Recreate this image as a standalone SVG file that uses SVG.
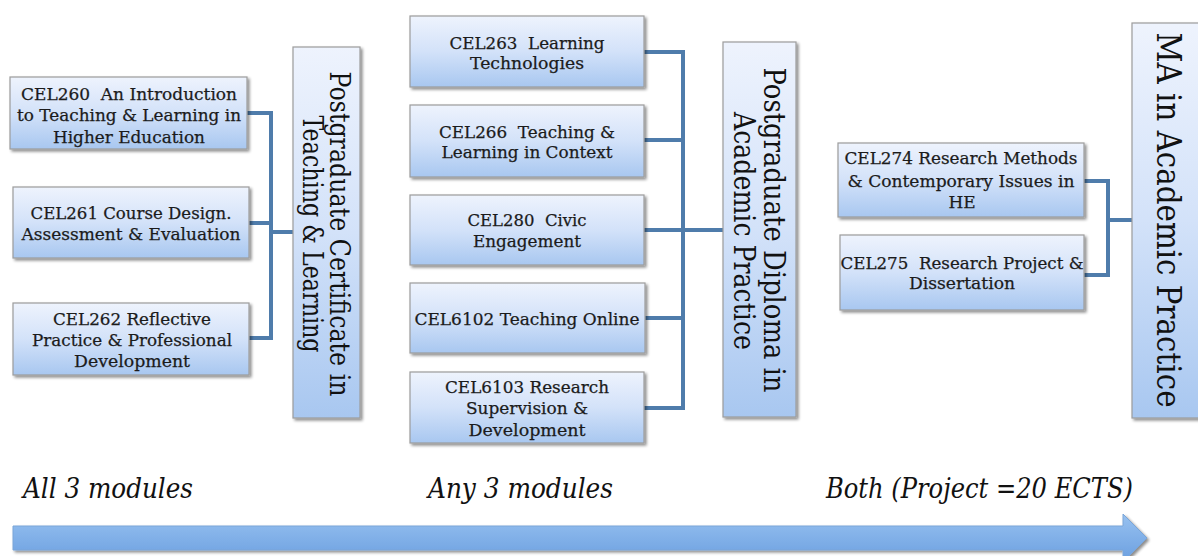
<svg xmlns="http://www.w3.org/2000/svg" width="1198" height="556" viewBox="0 0 1198 556">
<defs>
<linearGradient id="gBox" x1="0" y1="0" x2="0" y2="1">
<stop offset="0" stop-color="#eef3fd"/>
<stop offset="0.5" stop-color="#d3e2f9"/>
<stop offset="1" stop-color="#a8c7f0"/>
</linearGradient>
<linearGradient id="gArrow" x1="0" y1="0" x2="0" y2="1">
<stop offset="0" stop-color="#97c1f0"/>
<stop offset="1" stop-color="#6b9fe0"/>
</linearGradient>
<filter id="sh" x="-10%" y="-10%" width="130%" height="130%">
<feGaussianBlur in="SourceAlpha" stdDeviation="1.5"/>
<feOffset dx="1.5" dy="2" result="o"/>
<feComponentTransfer><feFuncA type="linear" slope="0.45"/></feComponentTransfer>
<feMerge><feMergeNode/><feMergeNode in="SourceGraphic"/></feMerge>
</filter>
</defs>
<style>
.box{fill:url(#gBox);stroke:#9c9c9c;stroke-width:1.2;filter:url(#sh)}
.t{font-family:"DejaVu Serif","Liberation Serif",serif;font-size:17px;fill:#1b1b1b;text-anchor:middle;stroke:#1b1b1b;stroke-width:0.25}
.v{font-family:"DejaVu Serif","Liberation Serif",serif;fill:#111;text-anchor:middle}
.lab{font-family:"DejaVu Serif","Liberation Serif",serif;font-style:italic;font-size:28px;fill:#111}
.con{fill:none;stroke:#4f7cab;stroke-width:4}
</style>

<g id="connectors">
<path class="con" d="M247,113 H271 V338 H249"/>
<path class="con" d="M249,223 H271"/>
<path class="con" d="M271,232 H293"/>
<path class="con" d="M644,52 H683 V408 H644"/>
<path class="con" d="M644,140 H683"/>
<path class="con" d="M644,230 H723"/>
<path class="con" d="M645,318 H683"/>
<path class="con" d="M1084,181 H1108 V275 H1084"/>
<path class="con" d="M1108,220 H1132"/>
</g>

<g id="cel260">
<rect class="box" x="10" y="77" width="237" height="72"/>
<text class="t" x="129" y="100" textLength="216" lengthAdjust="spacingAndGlyphs" xml:space="preserve">CEL260  An Introduction</text>
<text class="t" x="129" y="121" textLength="224" lengthAdjust="spacingAndGlyphs">to Teaching &amp; Learning in</text>
<text class="t" x="129" y="143" textLength="152" lengthAdjust="spacingAndGlyphs">Higher Education</text>
</g>
<g id="cel261">
<rect class="box" x="13" y="187" width="236" height="71"/>
<text class="t" x="131" y="219" textLength="201" lengthAdjust="spacingAndGlyphs">CEL261 Course Design.</text>
<text class="t" x="131" y="240" textLength="219" lengthAdjust="spacingAndGlyphs">Assessment &amp; Evaluation</text>
</g>
<g id="cel262">
<rect class="box" x="13" y="303" width="236" height="72"/>
<text class="t" x="132" y="325" textLength="158" lengthAdjust="spacingAndGlyphs">CEL262 Reflective</text>
<text class="t" x="132" y="346" textLength="200" lengthAdjust="spacingAndGlyphs">Practice &amp; Professional</text>
<text class="t" x="132" y="367" textLength="116" lengthAdjust="spacingAndGlyphs">Development</text>
</g>

<g id="pgcert">
<rect class="box" x="293" y="47" width="67" height="371"/>
<text class="v" font-size="27" transform="translate(330,234) rotate(90)" textLength="325" lengthAdjust="spacingAndGlyphs">Postgraduate Certificate in</text>
<text class="v" font-size="27" transform="translate(303,234) rotate(90)" textLength="237" lengthAdjust="spacingAndGlyphs">Teaching &amp; Learning</text>
</g>

<g id="cel263">
<rect class="box" x="410" y="16" width="234" height="71"/>
<text class="t" x="527" y="49" textLength="155" lengthAdjust="spacingAndGlyphs" xml:space="preserve">CEL263  Learning</text>
<text class="t" x="527" y="69" textLength="114" lengthAdjust="spacingAndGlyphs">Technologies</text>
</g>
<g id="cel266">
<rect class="box" x="410" y="105" width="234" height="72"/>
<text class="t" x="527" y="138" textLength="176" lengthAdjust="spacingAndGlyphs" xml:space="preserve">CEL266  Teaching &amp;</text>
<text class="t" x="527" y="158" textLength="171" lengthAdjust="spacingAndGlyphs">Learning in Context</text>
</g>
<g id="cel280">
<rect class="box" x="410" y="195" width="234" height="70"/>
<text class="t" x="527" y="226" textLength="119" lengthAdjust="spacingAndGlyphs" xml:space="preserve">CEL280  Civic</text>
<text class="t" x="527" y="247" textLength="108" lengthAdjust="spacingAndGlyphs">Engagement</text>
</g>
<g id="cel6102">
<rect class="box" x="410" y="283" width="235" height="70"/>
<text class="t" x="527" y="325" textLength="225" lengthAdjust="spacingAndGlyphs">CEL6102 Teaching Online</text>
</g>
<g id="cel6103">
<rect class="box" x="410" y="372" width="234" height="71"/>
<text class="t" x="527" y="393" textLength="164" lengthAdjust="spacingAndGlyphs">CEL6103 Research</text>
<text class="t" x="527" y="414" textLength="122" lengthAdjust="spacingAndGlyphs">Supervision &amp;</text>
<text class="t" x="527" y="436" textLength="117" lengthAdjust="spacingAndGlyphs">Development</text>
</g>

<g id="pgdip">
<rect class="box" x="723" y="42" width="73" height="375"/>
<text class="v" font-size="29" transform="translate(764,230) rotate(90)" textLength="325" lengthAdjust="spacingAndGlyphs">Postgraduate Diploma in</text>
<text class="v" font-size="29" transform="translate(734,231) rotate(90)" textLength="238" lengthAdjust="spacingAndGlyphs">Academic Practice</text>
</g>

<g id="cel274">
<rect class="box" x="838" y="143" width="246" height="74"/>
<text class="t" x="961" y="164" textLength="233" lengthAdjust="spacingAndGlyphs">CEL274 Research Methods</text>
<text class="t" x="961" y="187" textLength="227" lengthAdjust="spacingAndGlyphs">&amp; Contemporary Issues in</text>
<text class="t" x="962" y="208">HE</text>
</g>
<g id="cel275">
<rect class="box" x="840" y="235" width="244" height="75"/>
<text class="t" x="962" y="269" textLength="243" lengthAdjust="spacingAndGlyphs" xml:space="preserve">CEL275  Research Project &amp;</text>
<text class="t" x="962" y="289" textLength="106" lengthAdjust="spacingAndGlyphs">Dissertation</text>
</g>

<g id="ma">
<rect class="box" x="1132" y="23" width="70" height="395"/>
<text class="v" font-size="34" transform="translate(1157,220) rotate(90)" textLength="375" lengthAdjust="spacingAndGlyphs">MA in Academic Practice</text>
</g>

<g id="labels">
<text class="lab" x="23" y="498" textLength="170" lengthAdjust="spacingAndGlyphs">All 3 modules</text>
<text class="lab" x="428" y="498" textLength="185" lengthAdjust="spacingAndGlyphs">Any 3 modules</text>
<text class="lab" x="826" y="498" textLength="307" lengthAdjust="spacingAndGlyphs">Both (Project =20 ECTS)</text>
</g>

<g id="arrow">
<path d="M13,526 H1123 V514 L1147,538 L1123,562 V550 H13 Z" fill="url(#gArrow)" stroke="#7aa5d8" stroke-width="1" filter="url(#sh)"/>
</g>
</svg>
